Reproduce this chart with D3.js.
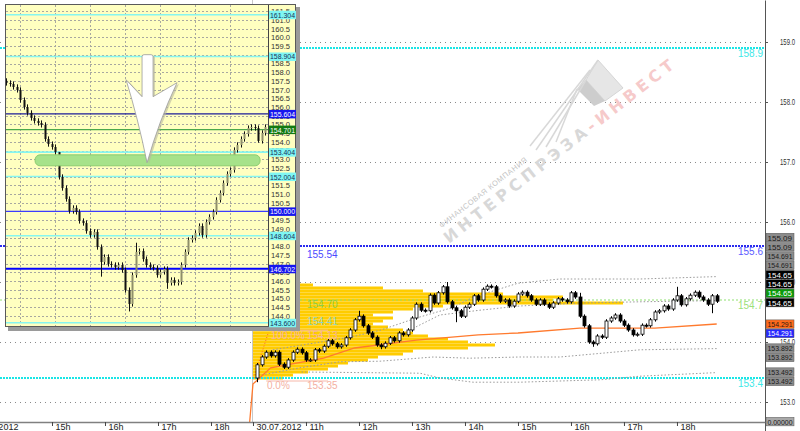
<!DOCTYPE html>
<html>
<head>
<meta charset="utf-8">
<script src="https://cdn.jsdelivr.net/npm/d3@7"></script>
<style>
  body { margin: 0; background: #fff; }
  svg { display: block; font-family: "Liberation Sans", Arial, sans-serif; }
</style>
</head>
<body>
<svg id="chart" width="800" height="431"></svg>
<script>
// ---- main chart data (5 min bars of 30.07.2012) ----
var firstOpen = 153.40;
var closes = [153.62,153.75,153.83,153.77,153.83,153.63,153.58,153.70,153.83,153.88,
  153.82,153.70,153.70,153.87,153.85,153.93,154.02,153.97,153.92,153.95,
  154.07,154.20,154.37,154.43,154.27,154.15,154.08,153.95,153.92,153.98,
  154.07,154.02,154.15,154.12,154.20,154.40,154.63,154.53,154.52,154.78,
  154.65,154.82,154.92,154.67,154.57,154.52,154.43,154.58,154.63,154.77,
  154.70,154.88,154.93,154.92,154.77,154.68,154.70,154.60,154.68,154.80,
  154.83,154.77,154.70,154.63,154.70,154.63,154.58,154.65,154.72,154.70,
  154.67,154.82,154.75,154.43,154.27,154.00,153.97,154.10,154.08,154.35,
  154.40,154.45,154.35,154.28,154.20,154.12,154.13,154.28,154.27,154.37,
  154.50,154.52,154.60,154.55,154.70,154.77,154.62,154.72,154.78,154.83,
  154.75,154.70,154.63,154.77,154.68];
// [bar, high, low] for the long wicks
var spikes = [[0,null,153.33],[23,154.52,null],[28,null,153.88],[43,155.00,null],
  [45,null,154.33],[73,154.82,null],[76,null,153.92],[95,154.92,null],[103,null,154.48]];

var profilePrices = [154.95,154.90,154.85,154.80,154.75,154.70,154.65,154.60,154.55,154.50,
  154.45,154.40,154.35,154.30,154.25,154.20,154.15,154.10,154.05,154.00,
  153.95,153.90,153.85,153.80,153.75,153.70,153.65,153.60,153.55,153.50,153.45,153.40];
var profileVolume = [60,130,170,250,310,300,370,190,160,140,
  120,140,130,120,135,150,160,175,195,215,
  242,215,160,150,125,115,95,85,75,55,40,30];

// [bar, price]
var upperBand = [[3.5,153.87],[21,154.08],[28,154.20],[36,154.40],[44,154.57],[49,154.75],[59,154.98],[68.5,155.05],[86.6,155.05],[104,155.09]];
var midBand = [[34.5,154.20],[41.3,154.45],[50.4,154.53],[59.4,154.60],[73,154.65],[86.6,154.67],[104,154.69]];
var lowerBand = [[1,153.45],[9.6,153.57],[18.7,153.67],[27.8,153.68],[39.8,153.75],[48,153.73],[59.4,153.75],[68.5,153.75],[86.6,153.87],[104,153.89]];
var lowerBand2 = [[10,153.50],[36.8,153.48],[41.3,153.40],[48.8,153.33],[59.4,153.33],[77.6,153.37],[86.6,153.43],[104,153.49]];
var maLine = [[-2,152.45],[-1,153.30],[3,153.57],[15,153.73],[22,153.90],[36,154.03],[50,154.12],[59,154.15],[73,154.23],[90,154.23],[104,154.30]];

var levels = [158.9, 155.6, 154.7, 153.4];
var levelKinds = ["cyan", "blue", "green", "cyan"];
var fibPrices = [154.13, 153.35];
var fibNames = ["100.0%", "0.0%"];

var priceTicks = [159, 158, 157, 156, 155, 154, 153];
var tagValues = [155.09,155.09,154.691,154.691,154.65,154.65,154.65,154.65,154.291,154.291,153.892,153.892,153.492,153.492,0];
var tagKinds = ["grey","grey","grey","grey","black","black","green","black","orange","blue","grey","grey","grey","grey","zero"];

var axisLabels = ["27.07.2012","15h","16h","17h","18h","30.07.2012","11h","12h","13h","14h","15h","16h","17h","18h"];
var axisDay = [0,0,0,0,0,1,1,1,1,1,1,1,1,1];
var axisClock = [13.45,15,16,17,18,10,11,12,13,14,15,16,17,18];

// ---- inset (hourly picture) data ----
var insetOpen = 157.50;
var insetCloses = [157.38,157.32,157.15,156.98,156.40,156.00,155.66,155.37,155.20,155.08,
  154.97,154.16,153.87,153.70,153.41,151.98,151.34,150.71,150.02,150.20,
  149.97,149.45,149.33,148.87,148.64,148.82,147.95,147.09,147.38,146.98,
  146.92,146.80,146.92,146.63,145.48,144.68,146.34,147.67,147.72,147.26,
  146.92,146.80,146.75,146.34,146.52,146.69,145.89,146.06,145.89,145.94,
  146.92,147.67,148.36,148.47,148.76,149.16,148.64,149.39,149.68,149.97,
  150.66,151.06,151.63,152.15,152.38,153.53,153.82,154.16,154.45,154.79,
  154.85,154.79,154.05,154.51,154.85];
var insetSpikes = [[15,152.25,null],[27,null,146.25],[35,null,144.25],[37,148.20,null],[46,null,145.55],[72,null,153.95]];
var insetTicks = [161.5,161.0,160.5,160.0,159.5,159.0,158.5,158.0,157.5,157.0,156.5,156.0,155.5,155.0,154.5,154.0,
  153.5,153.0,152.5,152.0,151.5,151.0,150.5,150.0,149.5,149.0,148.5,148.0,147.5,147.0,146.5,146.0,145.5,145.0,144.5,144.0];
var insetLevels = [161.304,158.904,155.604,154.701,153.404,152.004,150.000,148.604,146.702,143.600];
var insetKinds = ["cyan","cyan","navy","green","cyan","cyan","blue","cyan","blue2","cyan"];
var insetGridBars = [4,14,24,34,44,54,64];

// ---- scales ----
var svg = d3.select("#chart");
var plotRight = 765, plotBottom = 422;
var fridayLen = 4.792, barMinutes = 5, firstBarClock = 10 + 5 / 60;

function tradeHour(day, clock) { return day === 0 ? clock - 14 : fridayLen + clock - 10; }
function barHour(k) { return tradeHour(1, firstBarClock + k * barMinutes / 60); }

var x = d3.scaleLinear().domain([0, 14.453]).range([-1, plotRight]);
var y = d3.scaleLinear().domain([159.7, 152.5167]).range([0, 431]);
var volX = d3.scaleLinear().domain([0, 400]).range([0, 400]);

var bars = closes.map(function(c, k) {
  var o = k === 0 ? firstOpen : closes[k - 1];
  return {k: k, o: o, c: c, h: Math.max(o, c) + 0.03, l: Math.min(o, c) - 0.03};
});
spikes.forEach(function(s) {
  if (s[1] !== null) bars[s[0]].h = s[1];
  if (s[2] !== null) bars[s[0]].l = s[2];
});

svg.append("rect").attr("width", 800).attr("height", 431).attr("fill", "#fff");
svg.append("defs").append("clipPath").attr("id", "plotclip")
  .append("rect").attr("width", plotRight).attr("height", plotBottom);

var g = svg.append("g").attr("clip-path", "url(#plotclip)");

// grid
g.selectAll(".grid").data(priceTicks).enter().append("line")
  .attr("x1", 0).attr("x2", plotRight)
  .attr("y1", function(d) { return y(d) + 0.5; }).attr("y2", function(d) { return y(d) + 0.5; })
  .attr("stroke", "#8a8a8a").attr("stroke-dasharray", "1,4");

// session separator
g.append("line")
  .attr("x1", Math.round(x(tradeHour(1, 10))) - 0.5).attr("x2", Math.round(x(tradeHour(1, 10))) - 0.5)
  .attr("y1", 0).attr("y2", plotBottom).attr("stroke", "#c8c8c8");

// watermark
var wm = g.append("g").attr("transform", "translate(449,244) rotate(-38)");
wm.append("text").attr("x", 4).attr("y", -17).attr("font-size", 7.5).attr("letter-spacing", 0.6)
  .attr("fill", "#c4c4c4").text("ФИНАНСОВАЯ КОМПАНИЯ");
var wt = wm.append("text").attr("font-family", "DejaVu Sans").attr("font-weight", "bold")
  .attr("font-size", 16).attr("letter-spacing", 4.4);
wt.append("tspan").attr("fill", "#d8d8d8").text("ИНТЕРСПРЭЗА");
wt.append("tspan").attr("fill", "#f6caca").text("-ИНВЕСТ");
var logo = g.append("g");
logo.append("polygon").attr("points", "598,60 623,88 605,101 586,80").attr("fill", "#e6e6e6").attr("stroke", "#d6d6d6");
logo.append("polygon").attr("points", "586,80 605,101 594,106 577,89").attr("fill", "#cdcdcd");
[[536,150,598,60],[546,147,586,80],[556,142,577,89],[530,146,590,70]].forEach(function(l) {
  logo.append("line").attr("x1", l[0]).attr("y1", l[1]).attr("x2", l[2]).attr("y2", l[3])
    .attr("stroke", "#d8d8d8").attr("stroke-width", 1.5);
});

// volume profile
var x0 = x(tradeHour(1, 10));
g.selectAll(".prof").data(profilePrices).enter().append("rect")
  .attr("x", x0)
  .attr("y", function(d) { return y(d + 0.025); })
  .attr("width", function(d, i) { return volX(profileVolume[i]); })
  .attr("height", y(0) - y(0.05))
  .attr("fill", "#ffcc00");

// colored levels
var levelColor = {cyan: "#19e6e6", blue: "#2a2aee", green: "#8fe070"};
g.selectAll(".lvl").data(levels).enter().append("line")
  .attr("x1", 0).attr("x2", plotRight)
  .attr("y1", function(d) { return y(d); }).attr("y2", function(d) { return y(d); })
  .attr("stroke", function(d, i) { return levelColor[levelKinds[i]]; })
  .attr("stroke-width", function(d, i) { return levelKinds[i] === "green" ? 1 : 2; })
  .attr("stroke-dasharray", function(d, i) { return levelKinds[i] === "green" ? "2,2" : "2,1"; });

// bands
var bandLine = d3.line().x(function(d) { return x(barHour(d[0])); }).y(function(d) { return y(d[1]); });
[upperBand, midBand, lowerBand, lowerBand2].forEach(function(b) {
  g.append("path").attr("d", bandLine(b)).attr("fill", "none")
    .attr("stroke", "#9a9a9a").attr("stroke-dasharray", "1.5,2");
});
g.append("path").attr("d", bandLine(maLine)).attr("fill", "none")
  .attr("stroke", "#ff7a2e").attr("stroke-width", 1.3);

// fibo lines
g.selectAll(".fib").data(fibPrices).enter().append("line")
  .attr("x1", x(barHour(2))).attr("x2", x(barHour(16)))
  .attr("y1", function(d, i) { return y(d) - (i === 0 ? 4 : 0); })
  .attr("y2", function(d, i) { return y(d) - (i === 0 ? 4 : 0); })
  .attr("stroke", "#f6b8aa");
g.append("line").attr("x1", x(barHour(-0.8))).attr("y1", y(fibPrices[1]) - 3)
  .attr("x2", x(barHour(2.5))).attr("y2", y(fibPrices[0]) - 2)
  .attr("stroke", "#ff5a30").attr("stroke-dasharray", "1,2");

// candles
var cw = 3;
var candle = g.selectAll(".bar").data(bars).enter().append("g");
candle.append("line")
  .attr("x1", function(d) { return Math.round(x(barHour(d.k))) + 0.5; })
  .attr("x2", function(d) { return Math.round(x(barHour(d.k))) + 0.5; })
  .attr("y1", function(d) { return y(d.h); }).attr("y2", function(d) { return y(d.l); })
  .attr("stroke", "#000");
candle.append("rect")
  .attr("x", function(d) { return Math.round(x(barHour(d.k))) - 1; })
  .attr("y", function(d) { return y(Math.max(d.o, d.c)); })
  .attr("width", cw)
  .attr("height", function(d) { return Math.max(1, y(Math.min(d.o, d.c)) - y(Math.max(d.o, d.c))); })
  .attr("fill", function(d) { return d.c >= d.o ? "#fff" : "#000"; })
  .attr("stroke", "#000").attr("stroke-width", 0.8);

// fibo and level texts on top of the bars
g.selectAll(".fibn").data(fibPrices).enter().append("text")
  .attr("x", function(d, i) { return i === 0 ? 271 : 267; })
  .attr("y", function(d, i) { return y(d) + (i === 0 ? 5 : 8); })
  .attr("font-size", 10).attr("fill", "#f4b0a2")
  .text(function(d, i) { return fibNames[i]; });
g.selectAll(".fibv").data(fibPrices).enter().append("text")
  .attr("x", 307).attr("y", function(d, i) { return y(d) + (i === 0 ? 5 : 8); })
  .attr("font-size", 10).attr("fill", "#f4b0a2").text(function(d) { return d.toFixed(2); });

var notes = [[154.70, "154.70", "#8ccf46"], [154.41, "154.41", "#8fd4c6"], [155.54, "155.54", "#4a4aff"]];
g.selectAll(".note").data(notes).enter().append("text")
  .attr("x", 307).attr("y", function(d) { return d[0] === 155.54 ? y(155.6) + 12 : y(d[0]) + 8; })
  .attr("font-size", 10).attr("fill", function(d) { return d[2]; }).text(function(d) { return d[1]; });

// level names at the right edge
svg.selectAll(".lvlname").data(levels).enter().append("text")
  .attr("x", 763).attr("y", function(d) { return y(d) + 9; })
  .attr("text-anchor", "end").attr("font-size", 10)
  .attr("fill", function(d, i) { return levelKinds[i] === "green" ? "#9be07a" : levelKinds[i] === "blue" ? "#5a5aff" : "#40e8e8"; })
  .text(function(d) { return d.toFixed(1); });

// price axis
var yAxis = svg.append("g").attr("transform", "translate(" + plotRight + ",0)")
  .call(d3.axisRight(y).tickValues(priceTicks).tickFormat(d3.format(".1f"))
    .tickSize(3).tickSizeOuter(0).tickPadding(12));
yAxis.select(".domain").attr("stroke", "#555");
yAxis.selectAll(".tick line").attr("stroke", "#555");
yAxis.selectAll("text").attr("font-size", 8.5).attr("fill", "#333").attr("font-family", "Liberation Sans, Arial")
  .attr("textLength", 15).attr("lengthAdjust", "spacingAndGlyphs");

// time axis
var tickT = axisLabels.map(function(d, i) { return tradeHour(axisDay[i], axisClock[i]); });
var xAxis = svg.append("g").attr("transform", "translate(0," + plotBottom + ")")
  .call(d3.axisBottom(x).tickValues(tickT).tickFormat(function(d, i) { return axisLabels[i]; })
    .tickSize(4).tickSizeOuter(0).tickPadding(-2));
xAxis.select(".domain").attr("stroke", "#808080").attr("stroke-width", 1.5);
xAxis.selectAll(".tick line").attr("stroke", "#444");
xAxis.selectAll("text").attr("text-anchor", "start").attr("x", 3)
  .attr("font-size", 9).attr("fill", "#222").attr("font-family", "Liberation Sans, Arial");

// price tags
var tagStyle = {
  grey: ["#8c8c8c", "#1a1a1a"], black: ["#000", "#fff"], green: ["#0a9a0a", "#fff"],
  orange: ["#ff6a1c", "#2a1a10"], blue: ["#2828ff", "#fff"], zero: ["#a8a8a8", "#1a1a1a"]
};
var tagH = 9.3, bid = 154.65;
var cluster = tagValues.filter(function(v) { return v >= bid; }).length;
var tagY = tagValues.map(function(v, i) {
  if (v === 0) return plotBottom;
  if (v >= bid) return y(bid) - (cluster - 1 - i) * tagH;   // stacked upward from the bid
  var dup = i > 0 && tagValues[i - 1] === v ? 1 : 0;
  return y(v) + dup * tagH;
});
var tag = svg.selectAll(".tag").data(tagValues).enter().append("g")
  .attr("transform", function(d, i) { return "translate(766," + (tagY[i] - tagH / 2) + ")"; });
tag.append("rect").attr("width", 28).attr("height", tagH - 0.8)
  .attr("fill", function(d, i) { return tagStyle[tagKinds[i]][0]; })
  .attr("stroke", "#555").attr("stroke-width", 0.5);
tag.append("text").attr("x", 1.5).attr("y", 7.3).attr("font-size", 8)
  .attr("fill", function(d, i) { return tagStyle[tagKinds[i]][1]; })
  .attr("textLength", function(d, i) { return tagKinds[i] === "zero" || String(d).length > 6 ? 25 : null; })
  .attr("lengthAdjust", "spacingAndGlyphs")
  .text(function(d, i) { return tagKinds[i] === "zero" ? d.toFixed(5) : String(d); });

// ---- inset ----
var ins = svg.append("g");
var inL = 6, inR = 268, inT = 5, inB = 327, inAxisR = 296;
var xIn = d3.scaleLinear().domain([0, 74]).range([6, 265]);
var yIn = d3.scaleLinear().domain([161, 144]).range([20, 315.8]);

ins.append("rect").attr("x", inL + 2).attr("y", inT + 2).attr("width", inAxisR - inL + 2).attr("height", inB - inT + 2)
  .attr("fill", "#9a9a9a");
ins.append("rect").attr("x", inL - 0.5).attr("y", inT - 0.5).attr("width", inAxisR - inL).attr("height", inB - inT)
  .attr("fill", "#ffffc0").attr("stroke", "#5a5a5a");

ins.append("defs").append("clipPath").attr("id", "inclip")
  .append("rect").attr("x", inL).attr("y", inT).attr("width", inR - inL).attr("height", inB - inT - 1);
var ip = ins.append("g").attr("clip-path", "url(#inclip)");

ip.selectAll(".hg").data(insetTicks).enter().append("line")
  .attr("x1", inL).attr("x2", inR)
  .attr("y1", function(d) { return Math.round(yIn(d)) + 0.5; }).attr("y2", function(d) { return Math.round(yIn(d)) + 0.5; })
  .attr("stroke", "#a8a8a0").attr("stroke-dasharray", "2,2");
ip.selectAll(".vg").data(insetGridBars).enter().append("line")
  .attr("x1", function(d) { return Math.round(xIn(d)) + 0.5; }).attr("x2", function(d) { return Math.round(xIn(d)) + 0.5; })
  .attr("y1", inT).attr("y2", inB)
  .attr("stroke", "#a8a8a0").attr("stroke-dasharray", "2,2");

var inColor = {cyan: "#86f6f0", navy: "#1c1c9a", green: "#4aa84a", blue: "#3c3cff", blue2: "#0000ff"};
ip.selectAll(".il").data(insetLevels).enter().append("line")
  .attr("x1", inL).attr("x2", inR)
  .attr("y1", function(d) { return yIn(d); }).attr("y2", function(d) { return yIn(d); })
  .attr("stroke", function(d, i) { return inColor[insetKinds[i]]; })
  .attr("stroke-width", function(d, i) { return insetKinds[i] === "blue2" ? 2 : (insetKinds[i] === "cyan" ? 1.6 : 1.2); });

var ibars = insetCloses.map(function(c, k) {
  var o = k === 0 ? insetOpen : insetCloses[k - 1];
  return {k: k, o: o, c: c, h: Math.max(o, c) + 0.15, l: Math.min(o, c) - 0.15};
});
insetSpikes.forEach(function(s) {
  if (s[1] !== null) ibars[s[0]].h = s[1];
  if (s[2] !== null) ibars[s[0]].l = s[2];
});
var ic = ip.selectAll(".ib").data(ibars).enter().append("g");
ic.append("line")
  .attr("x1", function(d) { return Math.round(xIn(d.k)) + 0.5; }).attr("x2", function(d) { return Math.round(xIn(d.k)) + 0.5; })
  .attr("y1", function(d) { return yIn(d.h); }).attr("y2", function(d) { return yIn(d.l); })
  .attr("stroke", "#111");
ic.append("rect")
  .attr("x", function(d) { return Math.round(xIn(d.k)) - 0.5; })
  .attr("y", function(d) { return yIn(Math.max(d.o, d.c)); })
  .attr("width", 2)
  .attr("height", function(d) { return Math.max(1, yIn(Math.min(d.o, d.c)) - yIn(Math.max(d.o, d.c))); })
  .attr("fill", function(d) { return d.c >= d.o ? "#8f8f6a" : "#111"; });

// green zone and arrow
ip.append("rect").attr("x", xIn(8.3)).attr("y", yIn(153.25)).attr("width", xIn(72.6) - xIn(8.3))
  .attr("height", yIn(152.62) - yIn(153.25)).attr("rx", 5)
  .attr("fill", "#a6e28a").attr("stroke", "#8ccc70");
var tipX = xIn(40.3), tipY = yIn(152.8);
var arrowPath = "M-5,-106 Q-5,-108 -3,-108 L4,-108 Q6,-108 6,-106 L6,-66 L30,-80 Q12,-42 0,0 Q-9,-44 -21,-83 L-5,-66 Z";
ip.append("path").attr("d", arrowPath).attr("transform", "translate(" + (tipX + 2) + "," + (tipY + 1) + ")")
  .attr("fill", "#b8b8a0").attr("opacity", 0.6);
ip.append("path").attr("d", arrowPath).attr("transform", "translate(" + tipX + "," + tipY + ")")
  .attr("fill", "#fff").attr("stroke", "#9a9a9a").attr("stroke-width", 0.8);

// inset price scale
ins.append("line").attr("x1", inR + 0.5).attr("x2", inR + 0.5).attr("y1", inT).attr("y2", inB - 1).attr("stroke", "#444");
var inAxis = ins.append("g").attr("transform", "translate(" + inR + ",0)")
  .call(d3.axisRight(yIn).tickValues(insetTicks).tickFormat(d3.format(".1f")).tickSize(0).tickPadding(3));
inAxis.select(".domain").remove();
inAxis.selectAll("text").attr("font-size", 7.6).attr("fill", "#333").attr("font-family", "Liberation Sans, Arial");

var inTag = {cyan: ["#7ff6f2", "#14305a"], navy: ["#1616ee", "#fff"], green: ["#127a12", "#fff"],
  blue: ["#1616ee", "#fff"], blue2: ["#1616ee", "#fff"]};
var it = ins.selectAll(".it").data(insetLevels).enter().append("g")
  .attr("transform", function(d) { return "translate(" + (inR + 1) + "," + (yIn(d) - 4) + ")"; });
it.append("rect").attr("width", 27).attr("height", 8.5)
  .attr("fill", function(d, i) { return inTag[insetKinds[i]][0]; });
it.append("text").attr("x", 1).attr("y", 7).attr("font-size", 7.6)
  .attr("fill", function(d, i) { return inTag[insetKinds[i]][1]; })
  .attr("textLength", 25).attr("lengthAdjust", "spacingAndGlyphs")
  .text(function(d) { return d.toFixed(3); });
</script>
</body>
</html>
